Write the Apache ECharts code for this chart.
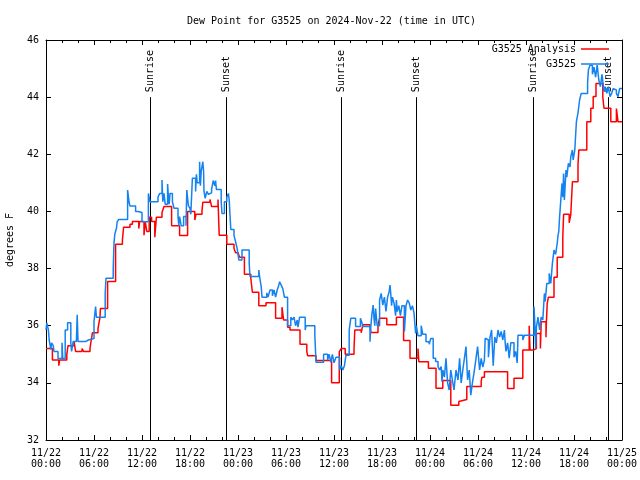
<!DOCTYPE html>
<html>
<head>
<meta charset="utf-8">
<script src="https://cdn.jsdelivr.net/npm/echarts@6/dist/echarts.min.js"></script>
<style>html,body{margin:0;padding:0;background:#fff}#c{width:640px;height:480px}</style>
</head>
<body>
<div id="c"></div>
<script>
// Hours since 2024-11-22 00:00 UTC
var xTickLabels = ['11/22\n00:00','11/22\n06:00','11/22\n12:00','11/22\n18:00','11/23\n00:00','11/23\n06:00','11/23\n12:00','11/23\n18:00','11/24\n00:00','11/24\n06:00','11/24\n12:00','11/24\n18:00','11/25\n00:00'];
var yTicks = [32,34,36,38,40,42,44,46];

var sunHours = [12.95, 22.45, 36.9, 46.25, 60.9, 70.25];
var sunNames = ['Sunrise','Sunset','Sunrise','Sunset','Sunrise','Sunset'];

var redHours = [0,0.8,1.6,1.7,2.6,2.75,3.5,3.7,4.5,4.7,5.5,5.6,5.8,6.5,6.75,6.8,7.7,8.7,9.55,9.7,10.5,10.8,11.6,11.7,12.25,12.4,12.6,12.9,13.2,13.6,13.8,14.5,14.75,15.7,16.7,17.7,18.6,18.75,19.5,19.6,20.5,20.7,21.5,21.65,22.6,23.5,23.7,24.0,24.2,24.8,25.6,25.8,26.6,27.5,28.7,29.5,29.7,30.2,30.5,31.75,32.6,32.7,33.75,35.7,36.66,36.9,37.4,38.5,38.6,39.4,39.6,40.5,40.6,41.5,41.7,42.6,43.8,44.7,45.5,46.5,46.6,47.8,48.75,49.6,50.6,51.6,51.7,52.6,54.4,54.5,54.8,57.7,58.5,59.6,60.4,60.5,60.9,61.3,61.8,61.9,62.5,62.55,62.6,62.65,62.8,63.5,63.9,64.6,64.7,65.4,65.6,65.8,66.5,66.6,67.6,68.1,68.4,68.75,69.6,69.75,70.6,71.3,71.5,72];
var redValues = [35.2,34.8,34.6,34.8,35.0,35.3,35.45,35.1,35.2,35.1,35.2,35.4,35.75,35.9,36.3,36.6,37.55,38.85,39.0,39.45,39.55,39.65,39.4,39.65,39.17,39.65,39.3,39.8,39.65,39.1,39.8,39.96,40.17,39.5,39.16,40.0,39.7,39.9,40.03,40.32,40.42,40.17,40.42,39.17,38.85,38.7,38.55,38.5,38.4,37.8,37.66,37.17,36.7,36.8,36.26,36.65,36.2,35.95,35.85,35.35,35.1,34.95,34.78,34.0,35.09,35.2,35.0,35.17,35.85,35.75,36.03,36.1,35.76,36.03,36.26,36.03,36.3,35.48,34.86,35.2,34.74,34.51,33.81,34.08,33.22,33.35,33.42,33.87,34.05,34.2,34.39,33.8,34.16,35.15,36.0,35.15,35.2,35.73,35.2,36.14,35.6,36.14,36.43,36.78,37.0,37.7,38.4,39.1,39.9,39.6,39.9,41.04,41.63,42.15,43.14,43.61,44.02,44.48,44.0,43.61,43.14,43.6,43.14,43.14];

var blueHours = [0,0.1,0.3,0.4,0.6,0.7,0.9,1.0,1.5,2.0,2.1,2.4,2.7,3.1,3.2,3.4,3.8,3.9,4.0,5.0,5.3,6.0,6.2,6.3,6.4,6.5,7.4,7.5,8.4,8.5,8.6,8.8,8.9,9.1,10.2,10.4,10.5,11.2,11.5,12.0,12.8,13.0,14.0,14.2,14.5,14.6,14.75,14.9,15.2,15.3,15.4,15.5,15.8,16.0,16.5,16.6,16.7,16.9,17.2,17.5,17.6,17.8,18.0,18.1,18.3,18.7,18.8,18.9,19.2,19.3,19.4,19.6,19.7,19.75,19.9,20.1,20.3,20.5,20.7,20.9,21.1,21.2,21.3,21.9,22.0,22.3,22.6,22.8,22.9,23.0,23.1,23.5,23.7,23.9,24.0,24.1,24.5,25.4,25.5,26.6,26.7,26.9,27.0,27.6,27.75,28.0,28.3,28.5,28.7,28.9,29.1,29.2,29.4,29.6,29.8,30.2,30.6,30.8,31.0,31.2,31.4,31.5,31.7,32.4,32.5,33.6,33.75,34.7,35.2,35.4,35.6,35.8,36.0,36.25,36.7,36.9,37.1,37.3,37.5,37.9,38.1,38.7,39.3,39.5,39.6,40.5,40.6,40.75,40.9,41.0,41.1,41.2,41.4,41.7,41.9,42.1,42.3,42.5,42.7,42.9,43.0,43.1,43.2,43.3,43.5,43.7,43.8,43.9,44.1,44.3,44.5,44.8,45.0,45.2,45.4,45.6,45.8,46.0,46.2,46.3,46.5,46.9,47.1,47.5,47.9,48.1,48.4,48.7,49.0,49.2,49.4,49.5,49.6,49.8,50.0,50.2,50.4,50.6,50.8,51.0,51.25,51.5,51.7,51.9,52.1,52.3,52.5,52.7,52.9,53.1,53.3,53.5,53.75,53.95,54.2,54.4,54.6,54.8,54.9,55.1,55.3,55.5,55.7,55.9,56.1,56.3,56.5,56.7,56.9,57.1,57.3,57.4,57.5,57.7,57.9,58.1,58.5,58.7,58.9,59.0,59.6,59.8,61.0,61.1,61.2,61.3,61.5,61.7,61.9,62.1,62.3,62.4,62.6,62.9,63.1,63.3,63.5,63.7,63.9,64.0,64.1,64.2,64.3,64.5,64.6,64.7,64.8,65.0,65.1,65.3,65.5,65.6,65.8,65.9,66.1,66.3,66.5,66.7,66.9,67.7,67.8,68.0,68.3,68.5,68.7,68.9,69.1,69.3,69.5,69.75,69.9,70.1,70.3,70.5,70.7,70.9,71.1,71.3,71.5,71.7,72];
var blueValues = [35.85,36.1,35.85,35.5,35.17,35.4,35.3,35.1,34.85,35.4,34.85,35.85,36.1,35.4,35.1,35.45,35.4,36.38,35.45,35.5,35.55,36.14,36.67,36.3,36.35,36.3,37.13,37.66,37.95,38.9,39.2,39.4,39.64,39.72,40.75,40.3,40.19,40.0,39.96,39.64,40.63,40.34,40.5,40.63,41.1,40.34,40.63,40.25,40.96,40.5,40.25,40.63,40.34,40.11,39.82,39.5,39.82,39.5,39.82,39.5,40.75,40.2,40.11,39.9,41.16,40.7,41.3,41.0,41.74,40.9,41.4,41.74,41.4,40.7,40.46,40.7,40.6,40.65,40.77,41.08,40.9,41.08,40.77,40.34,39.93,40.34,40.5,40.63,40.4,39.88,39.37,39.16,38.94,38.7,38.65,38.3,38.65,38.18,37.72,37.95,37.72,37.37,37.0,37.15,37.0,37.25,37.05,37.25,37.0,37.25,37.42,37.54,37.42,37.3,37.0,36.0,36.3,36.2,36.3,36.0,36.2,35.95,36.3,35.85,36.0,35.7,34.72,35.0,34.8,35.0,34.72,35.0,34.7,34.9,34.45,34.6,34.45,34.6,34.97,35.85,36.26,35.97,36.26,36.1,35.97,35.44,35.97,36.43,36.72,36.26,36.0,36.6,36.0,36.9,37.13,36.72,37.0,36.5,37.0,37.2,37.42,37.1,36.7,37.0,36.8,36.35,36.9,36.5,36.7,36.35,36.7,35.8,36.7,36.9,36.8,36.55,36.7,36.45,35.73,36.0,35.65,36.0,35.7,35.44,35.35,35.55,34.86,34.75,34.57,34.45,34.57,34.04,34.45,34.2,34.86,34.0,33.75,34.45,34.1,33.75,34.45,34.1,34.86,34.0,34.45,34.86,35.27,34.1,34.45,33.57,34.0,34.35,34.86,35.27,34.45,34.86,34.55,34.8,35.56,35.5,34.9,35.6,35.85,34.6,35.6,35.4,35.85,35.6,35.8,35.5,35.85,35.4,35.1,35.4,34.86,35.4,34.9,35.1,34.7,35.67,35.5,35.67,36.67,36.1,35.2,35.95,36.3,35.85,36.3,36.2,37.13,36.85,37.48,37.83,37.48,38.18,38.65,38.5,38.88,39.15,39.3,39.82,40.2,40.98,40.5,41.33,40.4,41.45,41.2,41.68,41.56,41.92,42.15,41.8,42.15,43.14,43.45,43.9,44.13,44.5,44.95,45.12,44.8,45.05,44.7,45.12,44.6,44.37,44.8,44.2,44.37,44.13,44.37,44.02,44.13,44.3,44.25,44.13,44.02,44.3,44.3];

function zip(a, b) { return a.map(function (v, i) { return [v, b[i]]; }); }

var FONT = 'DejaVu Sans Mono';
var chart = echarts.init(document.getElementById('c'), null, {renderer: 'canvas'});

var tickStyle = {show: true, inside: true, length: 5, lineStyle: {color: '#000', width: 1}};
var minorStyle = {show: true, splitNumber: 3, length: 3, lineStyle: {color: '#000', width: 1}};

chart.setOption({
  animation: false,
  backgroundColor: '#fff',
  textStyle: {fontFamily: FONT, fontSize: 10, color: '#000'},
  title: {
    text: 'Dew Point for G3525 on 2024-Nov-22 (time in UTC)',
    left: 187, top: 16, padding: 0,
    textStyle: {fontFamily: FONT, fontSize: 10, fontWeight: 'normal', color: '#000'}
  },
  legend: [
    {data: ['G3525 Analysis'], right: 31, top: 44, padding: 0, align: 'right', icon: 'rect', itemWidth: 28, itemHeight: 1.5,
     textStyle: {fontFamily: FONT, fontSize: 10, color: '#000'}},
    {data: ['G3525'], right: 31, top: 59, padding: 0, align: 'right', icon: 'rect', itemWidth: 28, itemHeight: 1.5,
     textStyle: {fontFamily: FONT, fontSize: 10, color: '#000'}}
  ],
  grid: {left: 46, right: 18, top: 40, bottom: 40, containLabel: false, outerBoundsMode: 'none'},
  xAxis: [
    {type: 'value', min: 0, max: 72, interval: 6, position: 'bottom',
     axisLine: {show: true, onZero: false, lineStyle: {color: '#000', width: 1}},
     axisTick: tickStyle, minorTick: minorStyle, splitLine: {show: false},
     axisLabel: {margin: 8, lineHeight: 11, fontFamily: FONT, fontSize: 10, color: '#000',
       formatter: function (v) { return xTickLabels[Math.round(v / 6)]; }}},
    {type: 'value', min: 0, max: 72, interval: 6, position: 'top',
     axisLine: {show: true, onZero: false, lineStyle: {color: '#000', width: 1}},
     axisTick: tickStyle, minorTick: minorStyle, splitLine: {show: false}, axisLabel: {show: false}}
  ],
  yAxis: [
    {type: 'value', min: yTicks[0], max: yTicks[yTicks.length - 1], interval: 2, position: 'left',
     name: 'degrees F', nameLocation: 'middle', nameGap: 31, nameRotate: 90,
     nameTextStyle: {fontFamily: FONT, fontSize: 10, color: '#000'},
     axisLine: {show: true, onZero: false, lineStyle: {color: '#000', width: 1}},
     axisTick: tickStyle, splitLine: {show: false},
     axisLabel: {margin: 7, fontFamily: FONT, fontSize: 10, color: '#000'}},
    {type: 'value', min: yTicks[0], max: yTicks[yTicks.length - 1], interval: 2, position: 'right',
     axisLine: {show: true, onZero: false, lineStyle: {color: '#000', width: 1}},
     axisTick: tickStyle, splitLine: {show: false}, axisLabel: {show: false}}
  ],
  series: [
    {
      type: 'custom', name: 'sun', xAxisIndex: 0, yAxisIndex: 0, silent: true, z: 1,
      data: sunHours.map(function (h) { return [h]; }),
      renderItem: function (params, api) {
        var x = api.value(0);
        var p0 = api.coord([x, 32]);
        var p1 = api.coord([x, 44]);
        return {
          type: 'group',
          children: [
            {type: 'line', shape: {x1: Math.round(p0[0]) + 0.5, y1: p0[1], x2: Math.round(p1[0]) + 0.5, y2: p1[1]},
             style: {stroke: '#000', lineWidth: 1}},
            {type: 'text', x: Math.round(p1[0]) + 0.5, y: p1[1] - 5, rotation: Math.PI / 2,
             style: {text: sunNames[params.dataIndex], font: '10px ' + FONT, fill: '#000', align: 'left', verticalAlign: 'middle'}}
          ]
        };
      }
    },
    {
      type: 'line', name: 'G3525 Analysis', step: 'end', showSymbol: false, symbol: 'none', z: 2,
      data: zip(redHours, redValues),
      lineStyle: {color: '#ff0000', width: 1.5}, itemStyle: {color: '#ff0000'}
    },
    {
      type: 'line', name: 'G3525', step: 'end', showSymbol: false, symbol: 'none', z: 3,
      data: zip(blueHours, blueValues),
      lineStyle: {color: '#1482f0', width: 1.5}, itemStyle: {color: '#1482f0'}
    }
  ]
});
</script>
</body>
</html>
